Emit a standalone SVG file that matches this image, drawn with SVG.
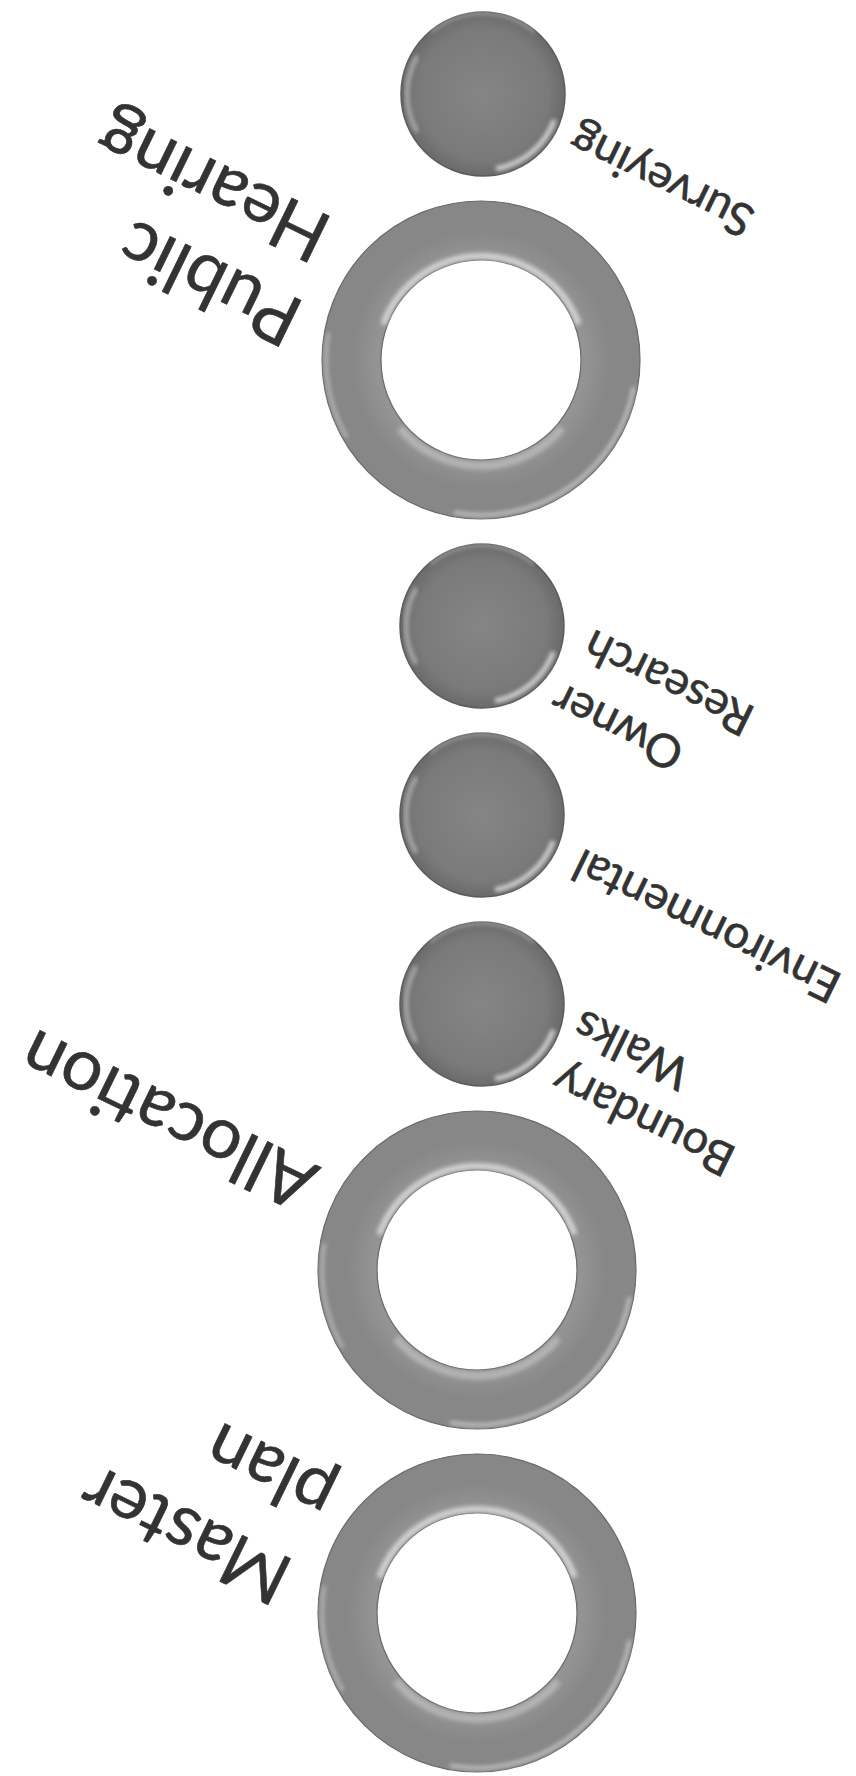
<svg xmlns="http://www.w3.org/2000/svg" width="856" height="1776" viewBox="0 0 856 1776">
  <defs>
    <style>
      .lbl { font-family: Lato, "Open Sans", "Liberation Sans", sans-serif; fill: #333333; stroke: #333333; stroke-width: 0.6; text-anchor: middle; }
      .sm { font-size: 46px; }
      .lg { font-size: 72px; }
      .disk { fill: url(#diskGrad); stroke: #5c5c5c; stroke-width: 1.5; }
      .ring { fill: none; stroke: url(#ringGrad); stroke-width: 59; }
      .edge { fill: none; stroke: #6a6a6a; stroke-width: 1.2; }
      .hl { fill: none; stroke: #ffffff; filter: url(#soft); }
    </style>
    <radialGradient id="diskGrad" cx="50%" cy="50%" r="50%">
      <stop offset="0" stop-color="#858585"/>
      <stop offset="0.8" stop-color="#7a7a7a"/>
      <stop offset="1" stop-color="#6a6a6a"/>
    </radialGradient>
    <radialGradient id="ringGrad" cx="50%" cy="50%" r="50%">
      <stop offset="0.6" stop-color="#8c8c8c"/>
      <stop offset="0.8" stop-color="#949494"/>
      <stop offset="1" stop-color="#878787"/>
    </radialGradient>
    <filter id="soft" x="-20%" y="-20%" width="140%" height="140%">
      <feGaussianBlur stdDeviation="2"/>
    </filter>
    <g id="diskShape">
      <circle class="disk" cx="0" cy="0" r="82"/>
      <path class="hl" d="M71.4,26 A76,76 0 0 1 13.2,74.8" stroke-width="5" opacity="0.7"/>
      <path class="hl" d="M-65.8,38 A76,76 0 0 1 -65.8,-38" stroke-width="4" opacity="0.45"/>
      <path class="hl" d="M-52.1,-62 A81,81 0 0 1 52.1,-62" stroke-width="2" opacity="0.5"/>
    </g>
    <g id="ringShape">
      <circle class="ring" cx="0" cy="0" r="129.5"/>
      <circle class="edge" cx="0" cy="0" r="159"/>
      <circle class="edge" cx="0" cy="0" r="100"/>
      <path class="hl" d="M-97.7,-35.6 A104,104 0 0 1 97.7,-35.6" stroke-width="6" opacity="0.6"/>
      <path class="hl" d="M81.2,68.1 A106,106 0 0 1 -81.2,68.1" stroke-width="8" opacity="0.3"/>
      <path class="hl" d="M152.6,26.9 A155,155 0 0 1 -26.9,152.6" stroke-width="3" opacity="0.6"/>
      <path class="hl" d="M-134.2,77.5 A155,155 0 0 1 -152.6,-26.9" stroke-width="3" opacity="0.45"/>
    </g>
  </defs>
  <rect x="0" y="0" width="856" height="1776" fill="#ffffff"/>
  <g id="connectors"/>

  <g id="surveying">
    <use href="#diskShape" transform="translate(483,94)"/>
    <text class="lbl sm" transform="translate(663,177) rotate(206)" dy="0.26em">Surveying</text>
  </g>

  <g id="public-hearing">
    <use href="#ringShape" transform="translate(481,360)"/>
    <text class="lbl lg" transform="translate(209,285) rotate(206)" dy="0.37em">Public</text>
    <text class="lbl lg" transform="translate(215,182) rotate(206)" dy="0.27em">Hearing</text>
  </g>

  <g id="owner-research">
    <use href="#diskShape" transform="translate(482,626)"/>
    <text class="lbl sm" transform="translate(617,728) rotate(206)" dy="0.36em">Owner</text>
    <text class="lbl sm" transform="translate(668,684) rotate(206)" dy="0.37em">Research</text>
  </g>

  <g id="environmental">
    <use href="#diskShape" transform="translate(482,815)"/>
    <text class="lbl sm" transform="translate(706,927) rotate(206)" dy="0.37em">Environmental</text>
  </g>

  <g id="boundary-walks">
    <use href="#diskShape" transform="translate(482,1004)"/>
    <text class="lbl sm" transform="translate(645,1117) rotate(206)" dy="0.27em">Boundary</text>
    <text class="lbl sm" transform="translate(631,1051) rotate(206)" dy="0.37em">Walks</text>
  </g>

  <g id="allocation">
    <use href="#ringShape" transform="translate(477,1270)"/>
    <text class="lbl lg" transform="translate(167,1122) rotate(206)" dy="0.37em">Allocation</text>
  </g>

  <g id="master-plan">
    <use href="#ringShape" transform="translate(477,1613)"/>
    <text class="lbl lg" transform="translate(185,1536) rotate(206)" dy="0.36em">Master</text>
    <text class="lbl lg" transform="translate(272,1468) rotate(206)" dy="0.27em">plan</text>
  </g>
</svg>
